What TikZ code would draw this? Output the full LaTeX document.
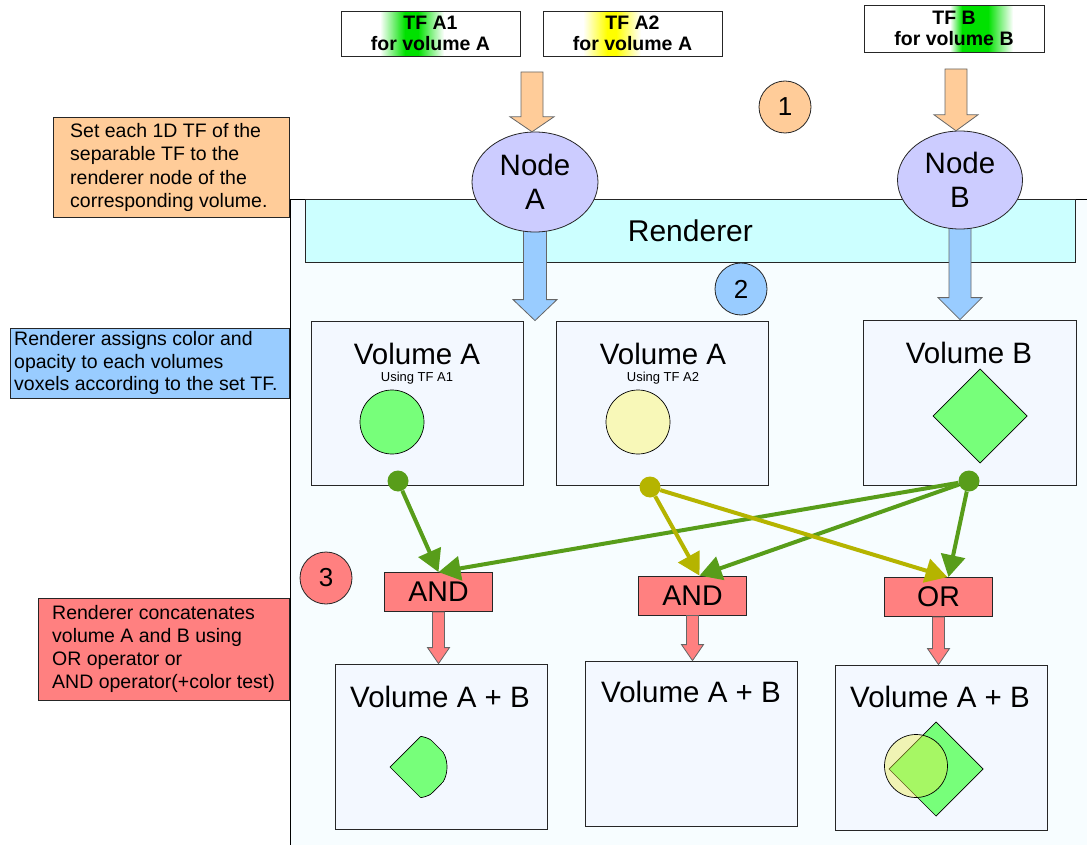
\documentclass[tikz,border=0pt]{standalone}
\usepackage{fontspec}
\setmainfont{Liberation Sans}
\usetikzlibrary{shapes.geometric,arrows.meta,calc}
\definecolor{orfill}{RGB}{255,204,153}
\definecolor{bluefill}{RGB}{153,204,255}
\definecolor{redfill}{RGB}{255,128,128}
\definecolor{rendc}{RGB}{204,255,255}
\definecolor{lav}{RGB}{204,204,255}
\definecolor{panelc}{RGB}{247,253,255}
\definecolor{volc}{RGB}{243,248,255}
\definecolor{shgreen}{RGB}{119,255,122}
\definecolor{shyellow}{RGB}{248,248,184}
\definecolor{gline}{RGB}{88,157,26}
\definecolor{yline}{RGB}{181,180,0}
\definecolor{tfgreen}{RGB}{0,225,0}
\definecolor{tfyellow}{RGB}{255,255,0}
\definecolor{ovyellow}{RGB}{237,237,68}
\newcommand{\myfs}[2]{\fontsize{#1}{#2}\selectfont}
% #1 style, #2 start, #3 tip, #4 shaft half width, #5 head half width, #6 head length
\newcommand{\myblockarrow}[6]{%
  \filldraw[#1] let \p1=(#2), \p2=(#3) in
    ({\x2-#4pt},\y1) -- ({\x2+#4pt},\y1) -- ({\x2+#4pt},{\y2+#6pt}) --
    ({\x2+#5pt},{\y2+#6pt}) -- (\x2,\y2) -- ({\x2-#5pt},{\y2+#6pt}) --
    ({\x2-#4pt},{\y2+#6pt}) -- cycle;}
\begin{document}
\begin{tikzpicture}[x=1pt,y=-1pt,
  bx/.style={draw=black!85, line width=0.8pt},
  volbox/.style={bx, fill=volc, inner sep=0pt},
  title/.style={font=\myfs{29.5}{31}},
  opbox/.style={bx, fill=redfill, minimum width=108pt, minimum height=39pt, inner sep=0pt, font=\myfs{28.5}{30}},
  tfbox/.style={bx, inner sep=0pt, align=center, font=\bfseries\myfs{19.5}{21.5}},
  numc/.style={circle, bx, minimum size=52pt, inner sep=0pt, font=\myfs{26}{28}},
  lbox/.style={bx, anchor=north west, inner sep=0pt},
  ltext/.style={anchor=west, inner sep=0pt, align=left},
  barrow/.style={draw=black!60, line width=0.8pt},
  garrow/.style={draw=gline, line width=4pt, -{Triangle[length=22pt,width=24pt]}},
  yarrow/.style={draw=yline, line width=4pt, -{Triangle[length=22pt,width=24pt]}},
  dot/.style={circle, inner sep=0pt, minimum size=21pt}]
\useasboundingbox (0,0) rectangle (1087,845);

% panel
\fill[panelc] (290,199) rectangle (1087,845);
\draw[line width=0.8pt] (290,845) -- (290,199) -- (1087,199);

% renderer
\node[bx, fill=rendc, minimum width=770pt, minimum height=63pt, inner sep=0pt, anchor=north west, font=\myfs{30}{32}] (rend) at (305,199) {Renderer};

% volume boxes
\node[volbox, minimum width=212pt, minimum height=164pt] (vA1) at (417,403) {};
\node[volbox, minimum width=212pt, minimum height=164pt] (vA2) at (662,403) {};
\node[volbox, minimum width=213pt, minimum height=165pt] (vB) at (969.5,402.5) {};
\node[title] at (417,354) {Volume A};
\node[font=\myfs{13}{14}] at (417,378) {Using TF A1};
\node[title] at (663,354) {Volume A};
\node[font=\myfs{13}{14}] at (663,378) {Using TF A2};
\node[title] at (969,353) {Volume B};
\draw[fill=shgreen, line width=0.7pt] (392,422) circle[radius=32pt];
\draw[fill=shyellow, line width=0.7pt] (638,422) circle[radius=32pt];
\draw[fill=shgreen, line width=0.7pt] (980,369) -- (1027,416) -- (980,463) -- (933,416) -- cycle;

% result boxes
\node[volbox, minimum width=212pt, minimum height=165pt] (r1) at (441,746.5) {};
\node[volbox, minimum width=212pt, minimum height=165pt] (r2) at (691,743.5) {};
\node[volbox, minimum width=212pt, minimum height=165pt] (r3) at (941,747.5) {};
\node[title] at (440,697) {Volume A + B};
\node[title] at (691,692) {Volume A + B};
\node[title] at (940,697) {Volume A + B};
% AND result: intersection of circle and diamond
\begin{scope}
  \clip (416,767) circle[radius=31pt];
  \fill[shgreen] (424,733) -- (458,767) -- (424,801) -- (390,767) -- cycle;
  \draw[line width=0.7pt] (424,733) -- (458,767) -- (424,801) -- (390,767) -- cycle;
\end{scope}
\begin{scope}
  \clip (424,733) -- (458,767) -- (424,801) -- (390,767) -- cycle;
  \draw[line width=0.7pt] (416,767) circle[radius=31pt];
\end{scope}
% OR result
\draw[fill=shgreen, line width=0.7pt] (936,722) -- (983,769) -- (936,816) -- (889,769) -- cycle;
\draw[fill=ovyellow, fill opacity=0.4, line width=0.7pt] (916,766) circle[radius=31.5pt];

% node ellipses and arrows
\node[ellipse, minimum width=126pt, minimum height=100pt, inner sep=0pt] (nA) at (535,182) {};
\node[ellipse, minimum width=125pt, minimum height=98pt, inner sep=0pt] (nB) at (960,180) {};
\myblockarrow{barrow, fill=bluefill}{nA.center}{nA.south |- vA1.north}{11.5}{22}{21}
\myblockarrow{barrow, fill=bluefill}{nB.center}{nB.south |- vB.north}{11}{22}{22}
\node[ellipse, bx, fill=lav, minimum width=126pt, minimum height=100pt, inner sep=0pt, align=center, font=\myfs{29.5}{34}] at (nA) {Node\\A};
\node[ellipse, bx, fill=lav, minimum width=125pt, minimum height=98pt, inner sep=0pt, align=center, font=\myfs{29.5}{34}] at (nB) {Node\\B};
\coordinate (oA) at (532,72);
\coordinate (oB) at (956,69);
\myblockarrow{barrow, fill=orfill}{oA}{oA |- nA.north}{11}{22}{15}
\myblockarrow{barrow, fill=orfill}{oB}{oB |- nB.north}{11}{22}{16}

% TF boxes with gradients
\shade[left color=white, right color=tfgreen] (380,12) rectangle (405,56);
\fill[tfgreen] (405,12) rectangle (418,56);
\shade[left color=tfgreen, right color=white] (418,12) rectangle (444,56);
\shade[left color=white, right color=tfyellow] (583,12) rectangle (607,56);
\fill[tfyellow] (607,12) rectangle (616,56);
\shade[left color=tfyellow, right color=white] (616,12) rectangle (641,56);
\shade[left color=white, right color=tfgreen] (950,6) rectangle (962,52);
\fill[tfgreen] (962,6) rectangle (988,52);
\shade[left color=tfgreen, right color=white] (988,6) rectangle (1013,52);
\node[tfbox, minimum width=179pt, minimum height=45pt] (tfA1) at (430.5,33.5) {TF A1\\for volume A};
\node[tfbox, minimum width=179pt, minimum height=45pt] (tfA2) at (632.5,33.5) {TF A2\\for volume A};
\node[tfbox, minimum width=180pt, minimum height=47pt] (tfB) at (954,28.5) {TF B\\for volume B};

% step numbers
\node[numc, fill=orfill] (c1) at (785,107) {1};
\node[numc, fill=bluefill] (c2) at (741,289) {2};
\node[numc, fill=redfill] (c3) at (326,578) {3};

% left explanations
\node[lbox, fill=orfill, minimum width=236pt, minimum height=100pt] (lbo) at (53,117) {};
\node[ltext, font=\myfs{19.5}{23.3}] at ([xshift=17pt]lbo.west)
  {Set each 1D TF of the\\separable TF to the\\renderer node of the\\corresponding volume.};
\node[lbox, fill=bluefill, minimum width=279pt, minimum height=70pt] (lbb) at (10,328) {};
\node[ltext, font=\myfs{19.5}{22.5}] at ([xshift=4pt]lbb.west)
  {Renderer assigns color and\\opacity to each volumes\\voxels according to the set TF.};
\node[lbox, fill=redfill, minimum width=251pt, minimum height=102pt] (lbr) at (38,598) {};
\node[ltext, font=\myfs{19.5}{23}] at ([xshift=14pt]lbr.west)
  {Renderer concatenates\\volume A and B using\\OR operator or\\AND operator(+color test)};

% operators
\node[opbox] (and1) at (438.5,592) {AND};
\node[opbox] (and2) at (692.5,595.5) {AND};
\node[opbox] (or) at (938.5,597) {OR};

% dots and combining arrows
\node[dot, fill=gline] (dA1) at (398,481) {};
\node[dot, fill=yline] (dA2) at (650,487) {};
\node[dot, fill=gline] (dB) at (969,481) {};
\draw[garrow] (dA1) -- (and1.north);
\draw[garrow] (dB) -- (and1.north);
\draw[garrow] (dB) -- ([xshift=7pt]and2.north);
\draw[yarrow] (dA2) -- ([xshift=7pt]and2.north);
\draw[yarrow] (dA2) -- ([xshift=9pt]or.north);
\draw[garrow] (dB) -- ([xshift=10pt]or.north);

% result arrows
\myblockarrow{barrow, fill=redfill}{and1.south}{and1.south |- r1.north}{6}{11}{16}
\myblockarrow{barrow, fill=redfill}{and2.south}{and2.south |- r2.north}{6}{11}{16}
\myblockarrow{barrow, fill=redfill}{or.south}{or.south |- r3.north}{6}{11}{16}
\end{tikzpicture}
\end{document}
